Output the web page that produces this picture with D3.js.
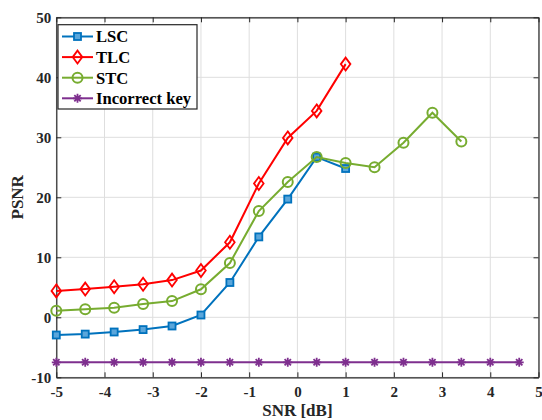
<!DOCTYPE html>
<html>
<head>
<meta charset="utf-8">
<script src="https://cdn.jsdelivr.net/npm/d3@7/dist/d3.min.js"></script>
<style>
  html, body { margin: 0; padding: 0; background: #fff; }
  svg { display: block; font-family: "Liberation Serif", "Times New Roman", serif; font-weight: bold; }
</style>
</head>
<body>
<svg id="chart" width="542" height="420"></svg>
<script>
// SNR sample points (dB)
const snr = [-5, -4.4, -3.8, -3.2, -2.6, -2, -1.4, -0.8, -0.2, 0.4, 1, 1.6, 2.2, 2.8, 3.4, 4, 4.6];

// PSNR per scheme
const lsc = [-2.95, -2.8, -2.45, -2.05, -1.45, 0.38, 5.8, 13.4, 19.7, 26.7, 24.8];
const tlc = [4.4, 4.7, 5.1, 5.5, 6.2, 7.8, 12.5, 22.3, 29.9, 34.4, 42.2];
const stc = [1.1, 1.33, 1.6, 2.2, 2.7, 4.67, 9.05, 17.7, 22.55, 26.7, 25.7, 25.0, 29.1, 34.1, 29.3];
const incorrect = [-7.5, -7.5, -7.5, -7.5, -7.5, -7.5, -7.5, -7.5, -7.5, -7.5, -7.5, -7.5, -7.5, -7.5, -7.5, -7.5, -7.5];

const seriesNames = ["LSC", "TLC", "STC", "Incorrect key"];
const seriesValues = [lsc, tlc, stc, incorrect];
const seriesColors = ["#0072BD", "#FF0000", "#77AC30", "#7E2F8E"];
const seriesMarkers = ["square", "diamond", "circle", "star"];

const xTicks = [-5, -4, -3, -2, -1, 0, 1, 2, 3, 4, 5];
const yTicks = [-10, 0, 10, 20, 30, 40, 50];

const svg = d3.select("#chart");
const pLeft = 56.3, pRight = 538.5, pTop = 17.3, pBottom = 377.3;

const x = d3.scaleLinear().domain([-5, 5]).range([pLeft, pRight]);
const y = d3.scaleLinear().domain([-10, 50]).range([pBottom, pTop]);

// plain hyphen for negative tick labels
const fmt = d => String(d);

// grid
const grid = svg.append("g");
grid.selectAll("line.vx").data(xTicks).join("line")
  .attr("x1", d => x(d)).attr("x2", d => x(d))
  .attr("y1", pTop).attr("y2", pBottom)
  .attr("stroke", "#dedede").attr("stroke-width", 1);
grid.selectAll("line.hy").data(yTicks).join("line")
  .attr("x1", pLeft).attr("x2", pRight)
  .attr("y1", d => y(d)).attr("y2", d => y(d))
  .attr("stroke", "#dedede").attr("stroke-width", 1);

// axes with inward ticks
const xAxis = svg.append("g").attr("transform", `translate(0,${pBottom})`)
  .call(d3.axisBottom(x).tickValues(xTicks).tickSizeInner(-5).tickSizeOuter(0).tickPadding(9).tickFormat(fmt));
const yAxis = svg.append("g").attr("transform", `translate(${pLeft},0)`)
  .call(d3.axisLeft(y).tickValues(yTicks).tickSizeInner(-5).tickSizeOuter(0).tickPadding(5).tickFormat(fmt));
const xTop = svg.append("g").attr("transform", `translate(0,${pTop})`)
  .call(d3.axisTop(x).tickValues(xTicks).tickSizeInner(-5).tickSizeOuter(0).tickFormat(""));
const yRight = svg.append("g").attr("transform", `translate(${pRight},0)`)
  .call(d3.axisRight(y).tickValues(yTicks).tickSizeInner(-5).tickSizeOuter(0).tickFormat(""));

[xAxis, yAxis, xTop, yRight].forEach(a => {
  a.select(".domain").attr("stroke", "#262626").attr("stroke-width", 1.2);
  a.selectAll(".tick line").attr("stroke", "#262626");
  a.selectAll("text").attr("font-family", "Liberation Serif, Times New Roman, serif")
    .attr("font-weight", "bold").attr("font-size", 15).attr("fill", "#262626");
});

// axis titles
svg.append("text").attr("x", (pLeft + pRight) / 2).attr("y", 416)
  .attr("text-anchor", "middle").attr("font-size", 17).attr("fill", "#262626").text("SNR [dB]");
svg.append("text").attr("transform", `translate(23,${(pTop + pBottom) / 2}) rotate(-90)`)
  .attr("text-anchor", "middle").attr("font-size", 17).attr("fill", "#262626").text("PSNR");

// marker drawing
function drawMarker(g, type, color) {
  if (type === "square") {
    g.append("rect").attr("x", -3.5).attr("y", -3.5).attr("width", 7).attr("height", 7)
      .attr("fill", "#5aa6db").attr("stroke", color).attr("stroke-width", 1.8);
  } else if (type === "diamond") {
    g.append("path").attr("d", "M0,-6.5L4.8,0L0,6.5L-4.8,0Z")
      .attr("fill", "none").attr("stroke", color).attr("stroke-width", 1.8);
  } else if (type === "circle") {
    g.append("circle").attr("r", 5).attr("fill", "none").attr("stroke", color).attr("stroke-width", 2);
  } else if (type === "star") {
    const r = 4.5;
    let d = "";
    for (let i = 0; i < 4; i++) {
      const a = i * Math.PI / 4;
      d += `M${-r * Math.cos(a)},${-r * Math.sin(a)}L${r * Math.cos(a)},${r * Math.sin(a)}`;
    }
    g.append("path").attr("d", d).attr("stroke", color).attr("stroke-width", 1.8).attr("fill", "none");
  }
}

const line = d3.line().x(d => x(d[0])).y(d => y(d[1]));

// series: incorrect key first so the others sit on top
const order = [3, 0, 2, 1];
order.forEach(i => {
  const pts = seriesValues[i].map((v, j) => [snr[j], v]);
  const g = svg.append("g");
  g.append("path").datum(pts).attr("d", line)
    .attr("fill", "none").attr("stroke", seriesColors[i]).attr("stroke-width", 2);
  g.selectAll("g.m").data(pts).join("g")
    .attr("transform", d => `translate(${x(d[0])},${y(d[1])})`)
    .each(function () { drawMarker(d3.select(this), seriesMarkers[i], seriesColors[i]); });
});

// legend
const leg = svg.append("g");
leg.append("rect").attr("x", 58).attr("y", 24.7).attr("width", 139).attr("height", 84.3)
  .attr("fill", "#fff").attr("stroke", "#262626").attr("stroke-width", 1.2);
seriesNames.forEach((name, i) => {
  const yy = 36.5 + i * 20.6;
  leg.append("line").attr("x1", 62).attr("x2", 93).attr("y1", yy).attr("y2", yy)
    .attr("stroke", seriesColors[i]).attr("stroke-width", 2);
  drawMarker(leg.append("g").attr("transform", `translate(77.5,${yy})`), seriesMarkers[i], seriesColors[i]);
  leg.append("text").attr("x", 96).attr("y", yy).attr("dy", "0.35em")
    .attr("font-size", 16.6).attr("fill", "#000").text(name);
});
</script>
</body>
</html>
